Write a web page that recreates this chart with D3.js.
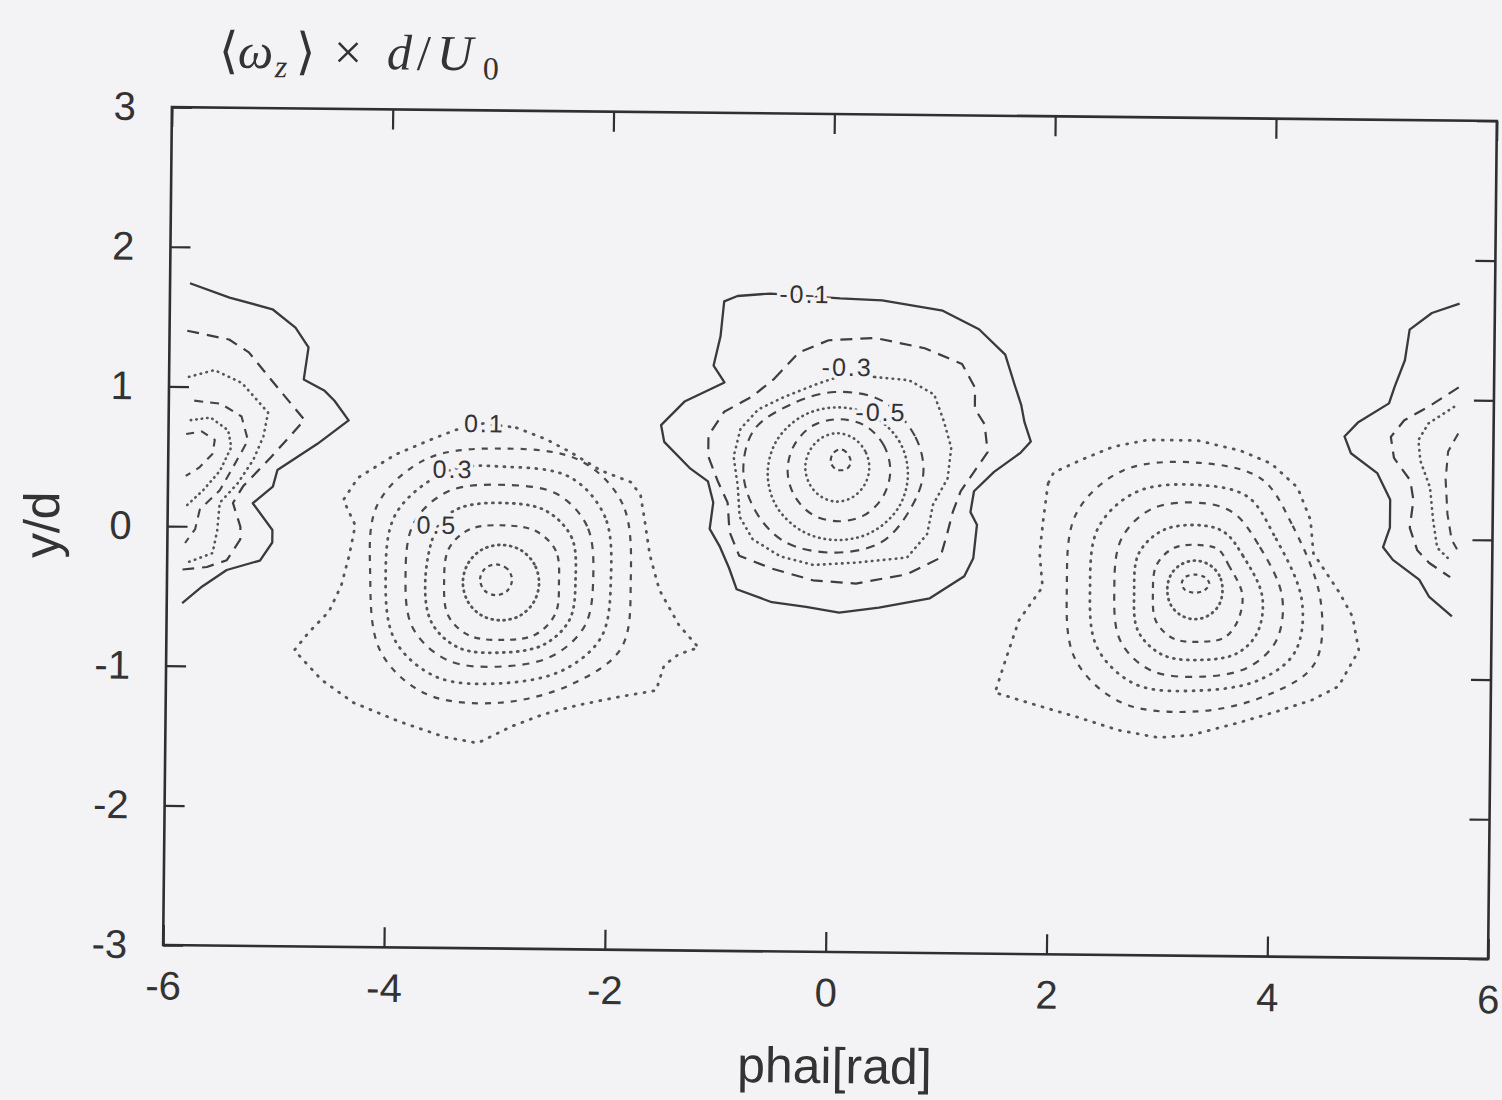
<!DOCTYPE html>
<html>
<head>
<meta charset="utf-8">
<script src="https://cdn.jsdelivr.net/npm/d3@7"></script>
<style>
  html, body { margin: 0; padding: 0; background: #f3f2f5; }
  svg { display: block; }
</style>
</head>
<body>
<svg id="chart" width="1502" height="1100"></svg>
<script>
// ---- axes ----
const xTicks = [-6, -4, -2, 0, 2, 4, 6];
const yTicks = [-3, -2, -1, 0, 1, 2, 3];
const xLabel = "phai[rad]";
const yLabel = "y/d";

// ---- contour lines of <omega_z> d/U0, as [phai, y/d] vertices ----
// central (negative) vortex
const centerM01 = [[0.07,1.68],[0.45,1.67],[1.00,1.60],[1.33,1.47],[1.57,1.29],[1.66,1.07],[1.72,0.93],[1.75,0.81],[1.81,0.67],[1.72,0.59],[1.48,0.45],[1.30,0.31],[1.27,0.16],[1.33,0.07],[1.30,-0.17],[1.22,-0.30],[0.91,-0.46],[0.45,-0.53],[0.09,-0.57],[-0.21,-0.53],[-0.52,-0.50],[-0.84,-0.41],[-0.91,-0.26],[-1.00,-0.10],[-1.09,0.02],[-1.06,0.21],[-1.11,0.36],[-1.27,0.45],[-1.51,0.64],[-1.54,0.76],[-1.33,0.93],[-0.97,1.07],[-1.07,1.19],[-1.01,1.40],[-0.98,1.65],[-0.86,1.69],[-0.56,1.71]];
const centerM02 = [[-0.52,1.10],[-0.30,1.29],[-0.03,1.38],[0.39,1.40],[0.84,1.33],[1.18,1.22],[1.30,1.05],[1.30,0.90],[1.39,0.79],[1.42,0.59],[1.30,0.45],[1.18,0.31],[1.11,0.16],[1.06,0.00],[1.00,-0.17],[0.70,-0.29],[0.24,-0.36],[-0.15,-0.34],[-0.52,-0.26],[-0.82,-0.17],[-0.91,0.00],[-0.93,0.21],[-1.02,0.36],[-1.11,0.54],[-1.11,0.69],[-0.97,0.86],[-0.72,0.97]];
const centerM03 = [[0.39,1.12],[0.70,1.10],[0.93,1.00],[1.02,0.81],[1.09,0.62],[1.06,0.40],[0.93,0.21],[0.88,0.00],[0.70,-0.17],[0.24,-0.21],[-0.15,-0.23],[-0.45,-0.17],[-0.70,-0.05],[-0.82,0.11],[-0.84,0.33],[-0.88,0.54],[-0.82,0.74],[-0.66,0.88],[-0.43,0.97],[-0.12,1.07],[0.14,1.14]];
const centerM04 = [[0.84,0.44],[0.76,0.70],[0.46,0.95],[0.03,1.01],[-0.36,0.92],[-0.70,0.73],[-0.79,0.42],[-0.66,0.13],[-0.40,-0.07],[0.05,-0.14],[0.47,-0.06],[0.72,0.17]];
const centerM05 = [[0.70,0.425],[0.62,0.66],[0.38,0.84],[0.065,0.90],[-0.25,0.84],[-0.49,0.66],[-0.57,0.425],[-0.49,0.19],[-0.25,0.01],[0.065,-0.05],[0.38,0.01],[0.62,0.19]];
const centerM06 = [[0.54,0.45],[0.48,0.63],[0.31,0.77],[0.075,0.815],[-0.16,0.77],[-0.33,0.63],[-0.39,0.45],[-0.33,0.27],[-0.16,0.13],[0.075,0.085],[0.31,0.13],[0.48,0.27]];
const centerM07 = [[0.35,0.47],[0.31,0.59],[0.205,0.68],[0.06,0.715],[-0.085,0.68],[-0.19,0.59],[-0.23,0.47],[-0.19,0.35],[-0.085,0.26],[0.06,0.225],[0.205,0.26],[0.31,0.35]];
const centerM08 = [[0.18,0.52],[0.14,0.58],[0.08,0.60],[0.02,0.57],[0.00,0.51],[0.04,0.46],[0.10,0.45],[0.16,0.47]];

// left (positive) vortex
const leftP01 = [[-2.85,0.73],[-2.58,0.65],[-2.36,0.56],[-2.08,0.43],[-1.81,0.35],[-1.72,0.26],[-1.68,0.08],[-1.63,-0.17],[-1.54,-0.42],[-1.36,-0.67],[-1.18,-0.83],[-1.36,-0.88],[-1.49,-0.96],[-1.56,-1.14],[-1.90,-1.19],[-2.26,-1.25],[-2.58,-1.32],[-2.87,-1.41],[-3.17,-1.53],[-3.47,-1.49],[-3.89,-1.38],[-4.30,-1.25],[-4.59,-1.09],[-4.84,-0.88],[-4.71,-0.75],[-4.53,-0.60],[-4.42,-0.41],[-4.35,-0.19],[-4.30,0.02],[-4.41,0.20],[-4.28,0.36],[-3.94,0.53],[-3.62,0.64],[-3.40,0.71],[-3.14,0.76]];
const leftP02 = [[-1.80,-0.36],[-1.88,0.19],[-2.27,0.50],[-2.96,0.58],[-3.66,0.50],[-4.10,0.17],[-4.16,-0.34],[-4.06,-0.88],[-3.65,-1.18],[-2.98,-1.24],[-2.32,-1.10],[-1.88,-0.84]];
const leftP03 = [[-1.98,-0.35],[-2.04,0.10],[-2.36,0.38],[-2.95,0.45],[-3.45,0.42],[-3.93,0.11],[-4.02,-0.35],[-3.93,-0.80],[-3.55,-1.06],[-2.95,-1.10],[-2.40,-1.00],[-2.06,-0.76]];
const leftP04 = [[-2.14,-0.34],[-2.20,0.03],[-2.48,0.26],[-2.95,0.32],[-3.46,0.27],[-3.77,0.04],[-3.84,-0.34],[-3.77,-0.71],[-3.45,-0.94],[-2.95,-0.98],[-2.50,-0.90],[-2.21,-0.68]];
const leftP05 = [[-2.30,-0.355],[-2.34,-0.05],[-2.58,0.14],[-2.945,0.19],[-3.36,0.15],[-3.55,0.02],[-3.66,-0.36],[-3.60,-0.67],[-3.35,-0.85],[-2.945,-0.88],[-2.58,-0.82],[-2.35,-0.64]];
const leftP06 = [[-2.45,-0.38],[-2.48,-0.15],[-2.66,-0.01],[-2.945,0.03],[-3.26,0.00],[-3.45,-0.14],[-3.49,-0.38],[-3.45,-0.62],[-3.26,-0.76],[-2.945,-0.79],[-2.66,-0.75],[-2.48,-0.60]];
const leftP07 = [[-2.63,-0.38],[-2.675,-0.245],[-2.80,-0.145],[-2.975,-0.11],[-3.15,-0.145],[-3.275,-0.245],[-3.32,-0.38],[-3.275,-0.515],[-3.15,-0.615],[-2.975,-0.65],[-2.80,-0.615],[-2.675,-0.515]];
const leftP08 = [[-2.875,-0.36],[-2.92,-0.28],[-3.02,-0.25],[-3.12,-0.28],[-3.165,-0.36],[-3.12,-0.44],[-3.02,-0.47],[-2.92,-0.44]];

// right (positive) vortex
const rightP01 = [[1.97,0.37],[1.93,0.11],[1.90,-0.13],[1.93,-0.37],[1.72,-0.61],[1.60,-0.90],[1.51,-1.13],[1.81,-1.20],[2.26,-1.30],[2.63,-1.39],[2.99,-1.44],[3.29,-1.42],[3.71,-1.33],[4.08,-1.24],[4.38,-1.16],[4.62,-1.06],[4.80,-0.80],[4.74,-0.56],[4.62,-0.39],[4.38,-0.11],[4.35,0.13],[4.23,0.36],[3.99,0.53],[3.71,0.62],[3.32,0.69],[2.87,0.69],[2.56,0.64],[2.26,0.54],[2.02,0.45]];
const rightP02 = [[4.45,-0.45],[4.18,0.10],[3.90,0.42],[3.34,0.53],[2.65,0.47],[2.23,0.16],[2.15,-0.36],[2.23,-0.88],[2.65,-1.19],[3.34,-1.25],[4.00,-1.12],[4.40,-0.90]];
const rightP03 = [[4.28,-0.45],[4.02,0.02],[3.78,0.29],[3.365,0.37],[2.78,0.32],[2.43,0.06],[2.36,-0.37],[2.43,-0.80],[2.78,-1.06],[3.365,-1.10],[3.90,-1.02],[4.22,-0.82]];
const rightP04 = [[4.10,-0.42],[3.88,-0.05],[3.66,0.17],[3.40,0.24],[2.92,0.20],[2.64,-0.02],[2.58,-0.385],[2.64,-0.75],[2.92,-0.96],[3.40,-1.00],[3.80,-0.93],[4.05,-0.74]];
const rightP05 = [[3.92,-0.42],[3.74,-0.13],[3.58,0.03],[3.395,0.08],[3.03,0.05],[2.80,-0.12],[2.76,-0.40],[2.80,-0.68],[3.03,-0.85],[3.395,-0.88],[3.70,-0.83],[3.88,-0.68]];
const rightP06 = [[3.74,-0.41],[3.62,-0.21],[3.52,-0.09],[3.385,-0.06],[3.12,-0.08],[2.96,-0.205],[2.93,-0.405],[2.96,-0.605],[3.12,-0.73],[3.385,-0.75],[3.58,-0.72],[3.70,-0.60]];
const rightP07 = [[3.56,-0.38],[3.53,-0.275],[3.44,-0.20],[3.31,-0.17],[3.18,-0.20],[3.09,-0.275],[3.06,-0.38],[3.09,-0.485],[3.18,-0.56],[3.31,-0.59],[3.44,-0.56],[3.53,-0.485]];
const rightP08 = [[3.44,-0.335],[3.40,-0.29],[3.31,-0.27],[3.22,-0.29],[3.19,-0.335],[3.22,-0.38],[3.31,-0.40],[3.40,-0.38]];

// negative vortex cut by the left edge of the domain
const edgeLM01 = [[-5.82,1.74],[-5.46,1.64],[-5.07,1.56],[-4.86,1.43],[-4.74,1.29],[-4.78,1.06],[-4.59,0.98],[-4.50,0.91],[-4.37,0.77],[-4.65,0.60],[-5.01,0.41],[-5.05,0.29],[-5.23,0.17],[-5.05,-0.02],[-5.05,-0.11],[-5.16,-0.24],[-5.46,-0.31],[-5.68,-0.43],[-5.86,-0.55]];
const edgeLM02 = [[-5.84,1.40],[-5.46,1.34],[-5.28,1.25],[-5.07,1.05],[-4.77,0.77],[-5.07,0.50],[-5.32,0.29],[-5.41,0.17],[-5.34,0.00],[-5.34,-0.09],[-5.46,-0.24],[-5.64,-0.29],[-5.86,-0.31]];
const edgeLM03 = [[-5.82,1.07],[-5.59,1.12],[-5.34,1.03],[-5.10,0.82],[-5.14,0.65],[-5.23,0.48],[-5.37,0.31],[-5.53,0.17],[-5.55,-0.03],[-5.59,-0.19],[-5.82,-0.26]];
const edgeLM04 = [[-5.77,0.90],[-5.53,0.88],[-5.34,0.79],[-5.28,0.62],[-5.41,0.43],[-5.53,0.26],[-5.71,0.12],[-5.75,-0.02],[-5.84,-0.12]];
const edgeLM05 = [[-5.80,0.76],[-5.62,0.78],[-5.46,0.69],[-5.43,0.57],[-5.53,0.40],[-5.68,0.26],[-5.84,0.14]];
const edgeLM06 = [[-5.84,0.66],[-5.70,0.68],[-5.58,0.62],[-5.60,0.52],[-5.72,0.42],[-5.84,0.36]];

// negative vortex cut by the right edge of the domain
const edgeRM01 = [[5.68,1.69],[5.43,1.62],[5.23,1.50],[5.19,1.28],[5.10,1.09],[5.05,0.97],[4.77,0.83],[4.65,0.73],[4.71,0.61],[4.95,0.47],[5.07,0.28],[5.07,0.08],[5.01,-0.06],[5.10,-0.15],[5.34,-0.29],[5.43,-0.41],[5.64,-0.55]];
const edgeRM02 = [[5.68,1.09],[5.41,0.95],[5.19,0.85],[5.07,0.73],[5.10,0.58],[5.25,0.42],[5.28,0.28],[5.25,0.08],[5.32,-0.08],[5.43,-0.17],[5.62,-0.27]];
const edgeRM03 = [[5.64,0.95],[5.41,0.83],[5.32,0.71],[5.34,0.56],[5.43,0.37],[5.46,0.14],[5.50,-0.06],[5.62,-0.15]];
const edgeRM04 = [[5.68,0.76],[5.59,0.63],[5.57,0.43],[5.59,0.18],[5.63,0.00],[5.68,-0.07]];

// contour level labels
const labelText = ["-0.1", "-0.3", "-0.5", "0.1", "0.3", "0.5"];
const labelX    = [-0.25, 0.14, 0.45, -3.14, -3.42, -3.56];
const labelY    = [1.71, 1.19, 0.87, 0.76, 0.43, 0.03];

// ---- table of lines: level, vertices, closed ring or open (cut by the edge), smoothing ----
const contourTable = [
  [-0.1, centerM01, "traced"], [-0.2, centerM02, "traced"], [-0.3, centerM03, "traced"],
  [-0.4, centerM04, "ring"], [-0.5, centerM05, "ring"], [-0.6, centerM06, "ring"],
  [-0.7, centerM07, "ring"], [-0.8, centerM08, "ring"],
  [0.1, leftP01, "traced"], [0.2, leftP02, "ring"], [0.3, leftP03, "ring"], [0.4, leftP04, "ring"],
  [0.5, leftP05, "ring"], [0.6, leftP06, "ring"], [0.7, leftP07, "ring"], [0.8, leftP08, "ring"],
  [0.1, rightP01, "traced"], [0.2, rightP02, "ring"], [0.3, rightP03, "ring"], [0.4, rightP04, "ring"],
  [0.5, rightP05, "ring"], [0.6, rightP06, "ring"], [0.7, rightP07, "ring"], [0.8, rightP08, "ring"],
  [-0.1, edgeLM01, "open"], [-0.2, edgeLM02, "open"], [-0.3, edgeLM03, "open"],
  [-0.4, edgeLM04, "open"], [-0.5, edgeLM05, "open"], [-0.6, edgeLM06, "open"],
  [-0.1, edgeRM01, "open"], [-0.2, edgeRM02, "open"], [-0.3, edgeRM03, "open"], [-0.4, edgeRM04, "open"]
].map(([level, points, kind]) => ({ level, points, kind }));

// ---- line style per contour level (gnuplot-like dash patterns) ----
const levelStyle = {
  "-0.1": { dash: null,      width: 2.3, cap: "butt",  color: "#3a3a3a" },
  "-0.2": { dash: "12,8",    width: 2.2, cap: "butt",  color: "#3e3e3e" },
  "-0.3": { dash: "0.5,5.5", width: 2.6, cap: "round", color: "#555" },
  "-0.4": { dash: "9,7",     width: 2.1, cap: "butt",  color: "#444" },
  "-0.5": { dash: "0.5,5",   width: 2.6, cap: "round", color: "#555" },
  "-0.6": { dash: "8,7",     width: 2.1, cap: "butt",  color: "#444" },
  "-0.7": { dash: "0.5,5",   width: 2.6, cap: "round", color: "#555" },
  "-0.8": { dash: "5,4",     width: 2.1, cap: "butt",  color: "#444" },
  "0.1":  { dash: "1,8",     width: 2.8, cap: "round", color: "#555" },
  "0.2":  { dash: "6,7",     width: 2.2, cap: "butt",  color: "#4a4a4a" },
  "0.3":  { dash: "1,7",     width: 2.8, cap: "round", color: "#555" },
  "0.4":  { dash: "7,7",     width: 2.2, cap: "butt",  color: "#4a4a4a" },
  "0.5":  { dash: "1,6",     width: 2.8, cap: "round", color: "#555" },
  "0.6":  { dash: "6,6",     width: 2.2, cap: "butt",  color: "#4a4a4a" },
  "0.7":  { dash: "1,5",     width: 2.8, cap: "round", color: "#555" },
  "0.8":  { dash: "4,4",     width: 2.2, cap: "butt",  color: "#4a4a4a" }
};

// ---- layout ----
const W = 1502, H = 1100;
const plot = { left: 167.5, right: 1492.5, top: 114, bottom: 952 };
const ink = "#2f2f2f";
const bg = "#f3f2f5";

const x = d3.scaleLinear().domain([-6, 6]).range([plot.left, plot.right]);
const y = d3.scaleLinear().domain([-3, 3]).range([plot.bottom, plot.top]);

const svg = d3.select("#chart");
svg.append("rect").attr("width", W).attr("height", H).attr("fill", bg);

// the whole sheet sits slightly tilted
const g = svg.append("g").attr("transform", "rotate(0.6 830 533)");

// ---- contour lines ----
const lineTraced = d3.line().x(d => x(d[0])).y(d => y(d[1])).curve(d3.curveLinearClosed);
const lineRing = d3.line().x(d => x(d[0])).y(d => y(d[1])).curve(d3.curveCatmullRomClosed.alpha(0.5));
const lineOpen = d3.line().x(d => x(d[0])).y(d => y(d[1])).curve(d3.curveLinear);

const cg = g.append("g").attr("fill", "none").attr("stroke-linejoin", "round");
cg.selectAll("path")
  .data(contourTable)
  .join("path")
  .attr("d", d => d.kind === "ring" ? lineRing(d.points) : d.kind === "traced" ? lineTraced(d.points) : lineOpen(d.points))
  .each(function (d) {
    const s = levelStyle[String(d.level)];
    d3.select(this)
      .attr("stroke", s.color)
      .attr("stroke-width", s.width)
      .attr("stroke-linecap", s.cap)
      .attr("stroke-dasharray", s.dash);
  });

// ---- level labels, knocked out of the line beneath ----
g.append("g")
  .selectAll("text")
  .data(labelText.map((t, i) => ({ t, x: labelX[i], y: labelY[i] })))
  .join("text")
  .attr("x", d => x(d.x))
  .attr("y", d => y(d.y))
  .attr("dy", "0.36em")
  .attr("text-anchor", "middle")
  .attr("font-family", "'Liberation Sans', Arial, sans-serif")
  .attr("font-size", 25)
  .attr("letter-spacing", 2)
  .attr("fill", "#333")
  .attr("stroke", bg)
  .attr("stroke-width", 7)
  .attr("paint-order", "stroke")
  .text(d => d.t);

// ---- frame and axes ----
const tickLen = 20;
const fontTick = "'Liberation Sans', Arial, Helvetica, sans-serif";

const axBottom = g.append("g").attr("transform", `translate(0,${plot.bottom})`)
  .call(d3.axisBottom(x).tickValues(xTicks).tickSizeInner(-tickLen).tickSizeOuter(0).tickPadding(26).tickFormat(d3.format("d")));
const axLeft = g.append("g").attr("transform", `translate(${plot.left},0)`)
  .call(d3.axisLeft(y).tickValues(yTicks).tickSizeInner(-tickLen).tickSizeOuter(0).tickPadding(36).tickFormat(d3.format("d")));
const axTop = g.append("g").attr("transform", `translate(0,${plot.top})`)
  .call(d3.axisTop(x).tickValues(xTicks).tickSizeInner(-tickLen).tickSizeOuter(0).tickFormat(""));
const axRight = g.append("g").attr("transform", `translate(${plot.right},0)`)
  .call(d3.axisRight(y).tickValues(yTicks).tickSizeInner(-tickLen).tickSizeOuter(0).tickFormat(""));

[axBottom, axLeft, axTop, axRight].forEach(a => {
  a.select(".domain").remove();
  a.selectAll(".tick line").attr("stroke", ink).attr("stroke-width", 2.2);
  a.selectAll(".tick text")
    .attr("fill", "#333")
    .attr("font-family", fontTick)
    .attr("font-size", 40);
});
// plain hyphen for negative tick values, as the plotting program writes them
axBottom.selectAll(".tick text").text(d => d < 0 ? "-" + Math.abs(d) : String(d));
axLeft.selectAll(".tick text").text(d => d < 0 ? "-" + Math.abs(d) : String(d));

g.append("rect")
  .attr("x", plot.left).attr("y", plot.top)
  .attr("width", plot.right - plot.left).attr("height", plot.bottom - plot.top)
  .attr("fill", "none").attr("stroke", ink).attr("stroke-width", 2.6);

// axis titles
g.append("text")
  .attr("x", 840).attr("y", 1083)
  .attr("text-anchor", "middle")
  .attr("font-family", fontTick).attr("font-size", 50).attr("fill", "#333")
  .text(xLabel);

g.append("text")
  .attr("transform", "translate(59,533) rotate(-90)")
  .attr("text-anchor", "middle")
  .attr("font-family", fontTick).attr("font-size", 50).attr("fill", "#333")
  .text(yLabel);

// quantity shown: <omega_z> x d / U0
const title = g.append("text")
  .attr("y", 74)
  .attr("font-family", "'Liberation Serif', 'DejaVu Serif', serif")
  .attr("font-size", 50)
  .attr("fill", "#333");
const titleParts = [
  { t: "\u27E8", x: 214, dy: 0,  it: false, fs: 50 },
  { t: "\u03C9", x: 233, dy: 0,  it: true,  fs: 50 },
  { t: "z",      x: 270, dy: 9,  it: true,  fs: 32 },
  { t: "\u27E9", x: 291, dy: -9, it: false, fs: 50 },
  { t: "\u00D7", x: 329, dy: 0,  it: false, fs: 50 },
  { t: "d",      x: 382, dy: 0,  it: true,  fs: 50 },
  { t: "/",      x: 412, dy: 0,  it: false, fs: 50 },
  { t: "U",      x: 432, dy: 0,  it: true,  fs: 50 },
  { t: "0",      x: 478, dy: 9,  it: false, fs: 32 }
];
titleParts.forEach(p => {
  title.append("tspan")
    .attr("x", p.x).attr("dy", p.dy)
    .attr("font-style", p.it ? "italic" : "normal")
    .attr("font-size", p.fs)
    .text(p.t);
});
</script>
</body>
</html>
